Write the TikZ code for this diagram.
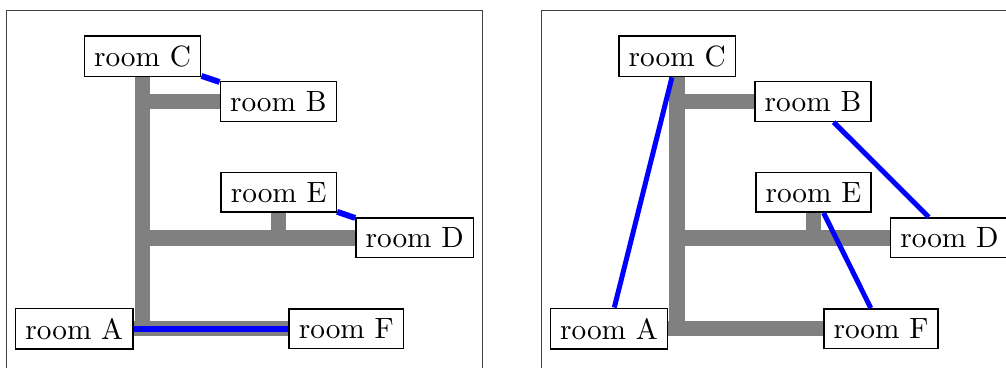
\documentclass[tikz,border=0pt]{standalone}
\begin{document}
\begin{tikzpicture}[x=0.3413pt,y=-0.3413pt,
  room/.style={draw=black,line width=0.5pt,fill=white},
  wall/.style={draw=gray,line width=5.3pt},
  linkA/.style={draw=blue,line width=2pt},
  linkB/.style={draw=blue,line width=1.7pt},
  frame/.style={draw=black!75,line width=0.5pt}]
\useasboundingbox (0,0) rectangle (1006,367);
% left panel
\begin{scope}
  \draw[frame] (6.7,10.5) rectangle (482.3,420);
  \node[room] (lC) at (142.5,56.3) {room C};
  \node[room] (lB) at (278.3,101.5) {room B};
  \node[room] (lE) at (278.7,192.3) {room E};
  \node[room] (lD) at (414.7,237.8) {room D};
  \node[room] (lA) at (74.3,328.7) {room A};
  \node[room] (lF) at (346.3,328.7) {room F};
  \draw[wall] (lC) |- (lB);
  \draw[wall] (lC) |- (lD);
  \draw[wall] (lC) |- (lF);
  \draw[wall] (lA) -- (lF);
  \draw[wall] (lE) |- (lD);
  \draw[linkA] (lC) -- (lB);
  \draw[linkA] (lE) -- (lD);
  \draw[linkA] (lA) -- (lF);
\end{scope}
% right panel
\begin{scope}[xshift=182.49pt]
  \draw[frame] (6.7,10.5) rectangle (482.3,420);
  \node[room] (rC) at (142.5,56.3) {room C};
  \node[room] (rB) at (278.3,101.5) {room B};
  \node[room] (rE) at (278.7,192.3) {room E};
  \node[room] (rD) at (414.7,237.8) {room D};
  \node[room] (rA) at (74.3,328.7) {room A};
  \node[room] (rF) at (346.3,328.7) {room F};
  \draw[wall] (rC) |- (rB);
  \draw[wall] (rC) |- (rD);
  \draw[wall] (rC) |- (rF);
  \draw[wall] (rA) -- (rF);
  \draw[wall] (rE) |- (rD);
  \draw[linkB] (rC) -- (rA);
  \draw[linkB] (rB) -- (rD);
  \draw[linkB] (rE) -- (rF);
\end{scope}
\end{tikzpicture}
\end{document}
